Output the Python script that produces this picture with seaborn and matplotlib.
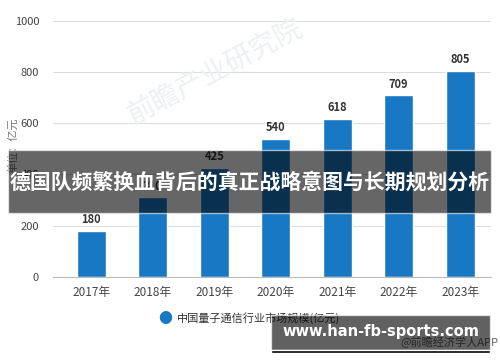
import matplotlib
matplotlib.use("Agg")
import matplotlib.pyplot as plt
import seaborn as sns
import pandas as pd
from matplotlib.patches import Rectangle

years = ["2017年", "2018年", "2019年", "2020年", "2021年", "2022年", "2023年"]
values = [180, 310, 425, 540, 618, 709, 805]
yticks = [0, 200, 400, 600, 800, 1000]
series_name = "中国量子通信行业市场规模(亿元)"
banner = "德国队频繁换血背后的真正战略意图与长期规划分析"
site = "www.han-fb-sports.com"

sns.set_style("white")
plt.rcParams["font.family"] = ["Noto Sans CJK SC", "DejaVu Sans"]

df = pd.DataFrame({"year": years, "value": values})
blue = "#1878c4"

fig = plt.figure(figsize=(5, 3.62), dpi=100)
ax = fig.add_axes([0.106, 0.235, 0.876, 0.708])
sns.barplot(data=df, x="year", y="value", color=blue, width=0.47, saturation=1, ax=ax)

ax.set_ylim(0, 1000)
ax.set_xlim(-0.62, 6.5)
ax.set_yticks(yticks)
ax.set_yticklabels([str(t) for t in yticks], fontsize=8, color="#444444")
ax.tick_params(axis="x", labelsize=8.5, colors="#444444", length=3, color="#bbbbbb")
ax.tick_params(axis="y", length=0, pad=10)
ax.grid(axis="y", color="#dddddd", linewidth=0.8)
ax.set_axisbelow(True)
for s in ["top", "right", "left"]:
    ax.spines[s].set_visible(False)
ax.spines["bottom"].set_color("#bbbbbb")
ax.set_xlabel("")
ax.set_ylabel("")
fig.text(0.026, 0.6, "单位：亿元", fontsize=8, color="#777777", rotation=90,
         ha="center", va="center")

for i, v in enumerate(values):
    ax.text(i, v + 18, str(v), ha="center", va="bottom", fontsize=8,
            fontweight="bold", color="#333333")

# watermark
fig.text(0.43, 0.8, "前瞻产业研究院", fontsize=20, color="#edf0f3", rotation=28,
         ha="center", va="center", zorder=0)

# legend
fig.text(0.33, 0.12, "●", fontsize=10, color=blue, ha="center", va="center")
fig.text(0.354, 0.12, series_name, fontsize=8, color="#333333", ha="left", va="center")
fig.text(0.8, 0.055, "@前瞻经济学人APP", fontsize=8, color="#666666", ha="left", va="center")

# overlay banners
fig.patches.append(Rectangle((0.016, 0.412), 0.966, 0.174, transform=fig.transFigure,
                             facecolor="black", alpha=0.6, zorder=10))
fig.text(0.5, 0.497, banner, fontsize=15, fontweight="bold", color="white",
         ha="center", va="center", zorder=11)
fig.patches.append(Rectangle((0.542, 0.033), 0.438, 0.097, transform=fig.transFigure,
                             facecolor="black", alpha=0.62, zorder=10))
fig.patches.append(Rectangle((0.542, 0.025), 0.438, 0.009, transform=fig.transFigure,
                             facecolor="black", zorder=10))
fig.text(0.762, 0.083, site, fontsize=10.5, fontweight="bold", color="white",
         ha="center", va="center", zorder=11, family="DejaVu Sans")

fig.savefig("out.png", dpi=100)
